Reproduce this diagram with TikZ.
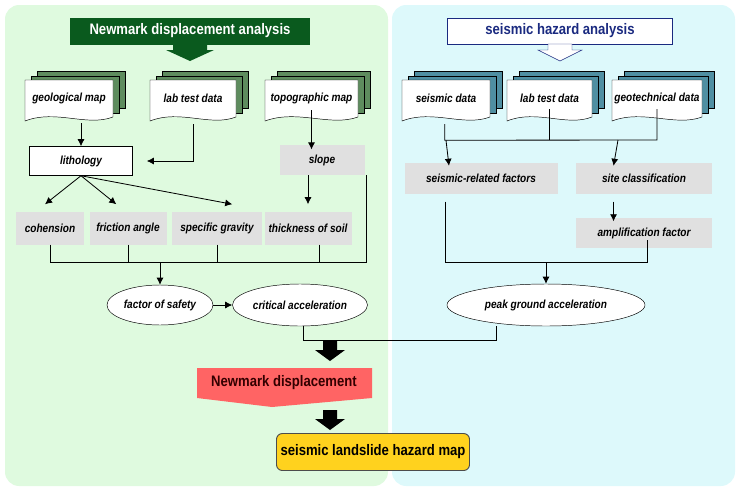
\documentclass[tikz,border=0pt]{standalone}
\usepackage{fontspec}
\setmainfont{Liberation Sans}[FakeStretch=0.86]
\usetikzlibrary{positioning,shapes.geometric,arrows.meta}
\definecolor{panelgreen}{HTML}{DFFADF}
\definecolor{panelblue}{HTML}{DDF9FB}
\definecolor{titlegreen}{HTML}{0A5A1E}
\definecolor{docgreen}{HTML}{5E8C5E}
\definecolor{docblue}{HTML}{4F8FA2}
\definecolor{titleblue}{HTML}{1A2A80}
\definecolor{factgrey}{HTML}{E0E0E0}
\definecolor{nmred}{HTML}{FF6464}
\definecolor{mapyellow}{HTML}{FFD21E}
\tikzset{
  lbl/.style={font=\fontsize{10}{11}\selectfont\bfseries\itshape},
  fact/.style={lbl, fill=factgrey, inner sep=0pt},
  oval/.style={lbl, ellipse, draw, fill=white, inner sep=0pt},
  conn/.style={line width=0.7pt},
  arr/.style={conn, -{Latex[length=6pt,width=6pt]}},
}
% name, x1, y1, x2, y2, text, colour
\newcommand{\docstack}[7]{%
  \foreach \d in {12,6} {
    \filldraw[#7, draw=black, line width=0.4pt] ({#2+\d},{#3-\d*0.7}) rectangle ({#4+\d},{#5-\d*0.7});
  }
  \filldraw[fill=white, draw=black, line width=0.4pt] (#2,#3) -- (#4,#3) -- (#4,#5)
    .. controls ({#4-0.3*(#4-#2)},{#5+10}) and ({#2+0.35*(#4-#2)},{#5-8}) .. (#2,{#5+4}) -- cycle;
  \node[lbl, minimum width={(#4-#2)*0.03cm}, minimum height={(#5-#3)*0.03cm}, inner sep=0pt]
    (#1) at ({(#2+#4)/2},{(#3+#5)/2}) {#6};
}
\begin{document}
\begin{tikzpicture}[x=0.03cm, y=-0.03cm]
  \useasboundingbox (0,0) rectangle (744,495);
  % panels
  \fill[panelgreen, rounded corners=12pt] (5,5) rectangle (388,486);
  \fill[panelblue, rounded corners=12pt] (392,5) rectangle (735,486);

  % titles
  \node[fill=titlegreen, text=white, font=\fontsize{13}{15}\selectfont\bfseries,
        minimum width=240*0.03cm, minimum height=27*0.03cm] (nda) at (190,31) {Newmark displacement analysis};
  \fill[titlegreen] (173,44) -- (207,44) -- (207,50) -- (214,50) -- (190,61) -- (166,50) -- (173,50) -- cycle;
  \node[draw=titleblue, fill=white, text=titleblue, font=\fontsize{13}{15}\selectfont\bfseries,
        minimum width=225*0.03cm, minimum height=26*0.03cm] (sha) at (560,31) {seismic hazard analysis};
  \filldraw[fill=white, draw=titleblue] (548,44) -- (572,44) -- (572,50) -- (582,50) -- (560,61) -- (538,50) -- (548,50) -- cycle;

  % data sources
  \docstack{geo}{25}{80}{113}{117}{geological map}{docgreen}
  \docstack{lab}{150}{80}{236}{117}{lab test data}{docgreen}
  \docstack{topo}{265}{80}{358}{117}{topographic map}{docgreen}
  \docstack{sdat}{402}{80}{490}{117}{seismic data}{docblue}
  \docstack{ldat}{507}{80}{592}{117}{lab test data}{docblue}
  \docstack{gdat}{612}{80}{702}{117}{geotechnical data}{docblue}

  % left column
  \node[lbl, draw, fill=white, minimum width=103*0.03cm, minimum height=29*0.03cm] (lith) at (81,161) {lithology};
  \node[fact, minimum width=85*0.03cm, minimum height=30*0.03cm] (slope) at (322,160) {slope};
  \node[fact, minimum width=68*0.03cm, minimum height=33*0.03cm] (coh) at (50,228) {cohension};
  \node[fact, minimum width=77*0.03cm, minimum height=33*0.03cm] (fric) at (128,228) {friction angle};
  \node[fact, minimum width=90*0.03cm, minimum height=33*0.03cm] (spec) at (217,228) {specific gravity};
  \node[fact, minimum width=87*0.03cm, minimum height=33*0.03cm] (thick) at (308,228) {thickness of soil};
  \node[oval, minimum width=106*0.03cm, minimum height=40*0.03cm] (fos) at (160,305) {factor of safety};
  \node[oval, minimum width=135*0.03cm, minimum height=42*0.03cm] (crit) at (300,305) {critical acceleration};

  % right column
  \node[fact, minimum width=153*0.03cm, minimum height=31*0.03cm] (srf) at (481,178) {seismic-related factors};
  \node[fact, minimum width=136*0.03cm, minimum height=31*0.03cm] (site) at (644,178) {site classification};
  \node[fact, minimum width=136*0.03cm, minimum height=30*0.03cm] (amp) at (644,233) {amplification factor};
  \node[oval, minimum width=198*0.03cm, minimum height=42*0.03cm] (pga) at (546,305) {peak ground acceleration};

  % results
  \fill[nmred] (197,368) -- (372,368) -- (372,398) -- (272,407) -- (197,398) -- cycle;
  \node[font=\fontsize{13}{15}\selectfont\bfseries, text=black!80!red] (nmd) at (284,383) {Newmark displacement};
  \node[draw=black!70, line width=0.8pt, fill=mapyellow, rounded corners=5pt,
        font=\fontsize{13}{15}\selectfont\bfseries, minimum width=193*0.03cm, minimum height=37*0.03cm]
        (slhm) at (373,452) {seismic landslide hazard map};
  \fill (323,341) -- (337,341) -- (337,350) -- (345,350) -- (330,361) -- (315,350) -- (323,350) -- cycle;
  \fill (323,410) -- (337,410) -- (337,419) -- (345,419) -- (330,430) -- (315,419) -- (323,419) -- cycle;

  % left connectors
  \draw[arr] (geo.south -| lith.north) ++(0,6) -- (lith.north);
  \draw[arr] (lab.south) ++(0,7) |- ([xshift=12]lith.east);
  \draw[arr] ([yshift=6]topo.south) -- ([yshift=-4]topo.south |- slope.north);
  \draw[arr] (slope.south -| thick.north) -- ([yshift=6]thick.north);
  \draw[arr] (lith.south) -- ([yshift=6]coh.north -| 45,0);
  \draw[arr] (lith.south) -- ([xshift=-10,yshift=6]fric.north);
  \draw[arr] (lith.south) -- ([xshift=13,yshift=6]spec.north);
  \coordinate (lbus) at (160,262);
  \draw[conn] (coh.south) -- (coh.south |- lbus) -- ([xshift=50]thick.south |- lbus) -- ([xshift=50]thick.south |- slope.south);
  \draw[conn] (fric.south) -- (fric.south |- lbus);
  \draw[conn] (spec.south) -- (spec.south |- lbus);
  \draw[conn] ([xshift=10]thick.south) -- ([xshift=10]thick.south |- lbus);
  \draw[arr] (lbus) -- (fos.north);
  \draw[arr] (fos.east) -- (crit.west);

  % right connectors
  \coordinate (rtbus) at (560,140);
  \draw[conn] ([xshift=-1]sdat.south) ++(0,7) -- ++(0,16) -- (gdat.south |- rtbus) -- ([yshift=7]gdat.south);
  \draw[conn] ([yshift=7]ldat.south) -- (ldat.south |- rtbus);
  \draw[arr] (srf.north -| sdat.south) ++(0,-22) -- ([yshift=-3]srf.north -| 449,0);
  \draw[arr] (site.north |- rtbus) ++(-26,0) -- ([xshift=-26,yshift=-3]site.north);
  \draw[arr] ([xshift=-26]site.south) ++(0,8) -- ([xshift=-26,yshift=-3]amp.north);
  \coordinate (rbus) at (546,262);
  \draw[conn] ([xshift=-30]srf.south) ++(0,8) -- ([xshift=-30]srf.south |- rbus) -- ([xshift=3]amp.south |- rbus) -- ([xshift=3,yshift=7]amp.south);
  \draw[arr] (rbus) -- (pga.north);

  % bottom connector
  \draw[conn] ([xshift=3]crit.south) -- ++(0,14) -| ([xshift=-42]pga.south);
\end{tikzpicture}
\end{document}
